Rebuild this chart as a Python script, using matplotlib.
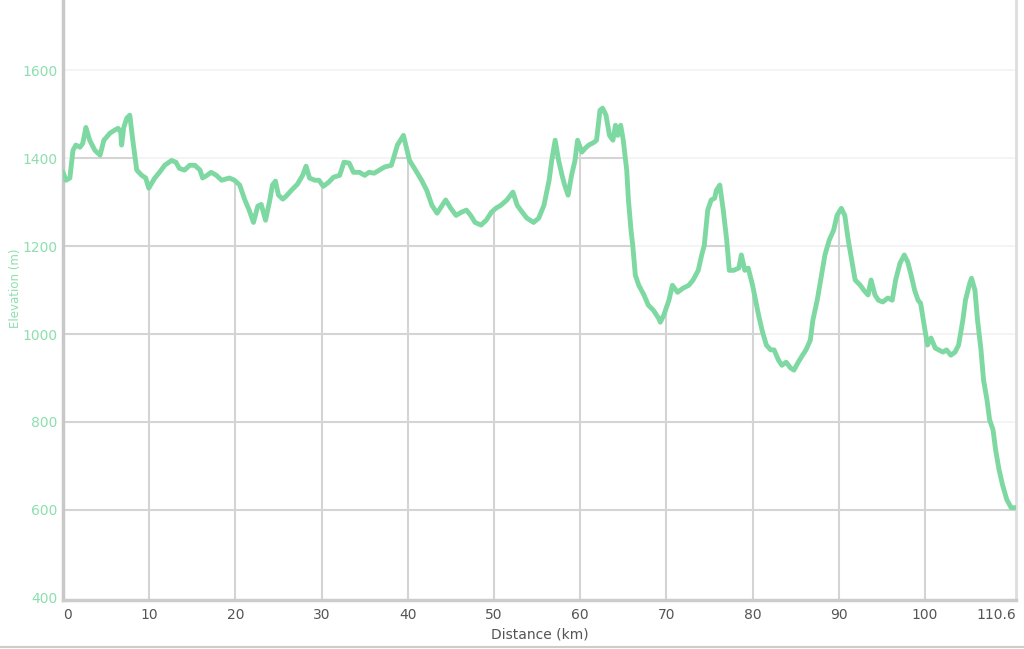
import matplotlib.pyplot as plt
import numpy as np
from matplotlib.patches import Polygon
from matplotlib.lines import Line2D

# elevation profile
distance_km = [0.0, 0.35, 0.8, 1.16, 1.5, 1.97, 2.3, 2.66, 3.1, 3.7, 4.3, 4.75, 5.45, 6.0, 6.4, 6.7,
               6.8, 7.05, 7.4, 7.75, 8.1, 8.56, 9.14, 9.6, 9.95, 10.65, 11.2, 11.8, 12.6, 13.1, 13.5,
               14.1, 14.7, 15.3, 15.9, 16.2, 16.7, 17.2, 17.8, 18.4, 19.3, 19.9, 20.5, 21.1, 21.6,
               22.1, 22.6, 23.0, 23.5, 24.0, 24.3, 24.65, 25.0, 25.5, 25.9, 26.5, 27.2, 27.8, 28.2,
               28.6, 29.2, 29.7, 30.2, 30.8, 31.4, 32.1, 32.6, 33.2, 33.7, 34.4, 35.0, 35.5, 36.1,
               36.7, 37.3, 38.1, 38.8, 39.5, 40.2, 40.9, 41.6, 42.2, 42.8, 43.4, 44.0, 44.4, 45.0,
               45.6, 46.2, 46.8, 47.3, 47.8, 48.5, 49.1, 49.7, 50.2, 50.8, 51.5, 52.2, 52.7, 53.1,
               53.8, 54.6, 55.2, 55.8, 56.4, 56.7, 57.1, 57.5, 57.9, 58.2, 58.6, 59.0, 59.4, 59.7,
               60.2, 60.6, 61.0, 61.6, 61.9, 62.3, 62.6, 63.0, 63.4, 63.8, 64.1, 64.35, 64.7, 65.0,
               65.4, 65.6, 65.9, 66.1, 66.4, 66.8, 67.4, 67.9, 68.5, 69.1, 69.3, 69.7, 70.3, 70.7,
               71.3, 71.9, 72.6, 73.1, 73.7, 74.1, 74.4, 74.8, 75.2, 75.6, 75.8, 76.2, 76.6, 77.0,
               77.3, 77.8, 78.4, 78.7, 79.1, 79.5, 80.0, 80.3, 80.7, 81.1, 81.6, 82.1, 82.5, 83.0,
               83.4, 83.9, 84.4, 84.8, 85.3, 85.8, 86.2, 86.7, 87.0, 87.5, 88.0, 88.4, 88.9, 89.4,
               89.8, 90.3, 90.7, 91.1, 91.4, 91.9, 92.5, 92.9, 93.4, 93.75, 94.2, 94.6, 95.1, 95.7,
               96.2, 96.6, 97.1, 97.6, 98.0, 98.4, 98.8, 99.2, 99.5, 100.0, 100.3, 100.7, 101.2,
               101.6, 102.1, 102.5, 103.0, 103.5, 103.9, 104.4, 104.7, 105.2, 105.4, 105.8, 106.1,
               106.5, 106.8, 107.2, 107.5, 107.9, 108.2, 108.6, 109.0, 109.5, 110.0, 110.6]
elevation_m = [1368, 1350, 1355, 1418, 1430, 1425, 1434, 1470, 1441, 1418, 1407, 1441, 1457, 1464,
               1468, 1459, 1430, 1470, 1491, 1498, 1441, 1373, 1361, 1355, 1332, 1355, 1368, 1384,
               1395, 1391, 1377, 1373, 1384, 1384, 1373, 1355, 1361, 1368, 1361, 1350, 1355, 1350,
               1339, 1305, 1282, 1254, 1291, 1295, 1259, 1305, 1339, 1348, 1316, 1307, 1314, 1327,
               1341, 1361, 1382, 1355, 1350, 1350, 1336, 1345, 1357, 1361, 1391, 1389, 1368, 1368,
               1361, 1368, 1366, 1373, 1380, 1384, 1430, 1452, 1395, 1373, 1350, 1327, 1293, 1275,
               1293, 1305, 1286, 1270, 1277, 1282, 1270, 1254, 1248, 1259, 1277, 1286, 1293, 1305,
               1323, 1293, 1282, 1264, 1254, 1264, 1293, 1350, 1395, 1441, 1395, 1361, 1339, 1316,
               1361, 1395, 1441, 1414, 1423, 1430, 1436, 1441, 1509, 1514, 1498, 1452, 1441, 1475,
               1452, 1475, 1441, 1373, 1305, 1236, 1202, 1134, 1111, 1089, 1066, 1054, 1036, 1027,
               1043, 1077, 1111, 1095, 1104, 1111, 1123, 1145, 1180, 1202, 1282, 1305, 1309, 1327,
               1339, 1282, 1214, 1145, 1145, 1150, 1180, 1145, 1150, 1111, 1082, 1043, 1009, 975,
               964, 964, 941, 929, 936, 923, 918, 936, 952, 964, 986, 1032, 1077, 1134, 1180, 1214,
               1236, 1270, 1286, 1270, 1214, 1180, 1123, 1111, 1100, 1089, 1123, 1089, 1077, 1073,
               1082, 1077, 1123, 1161, 1180, 1164, 1134, 1100, 1077, 1070, 1009, 975, 991, 968, 964,
               959, 964, 952, 959, 975, 1032, 1077, 1116, 1127, 1100, 1032, 964, 895, 850, 805, 782,
               736, 691, 657, 623, 605, 605]

x_ticks = [0, 10, 20, 30, 40, 50, 60, 70, 80, 90, 100, 110.6]
x_labels = ["0", "10", "20", "30", "40", "50", "60", "70", "80", "90", "100", "110.6"]
y_ticks = [400, 600, 800, 1000, 1200, 1400, 1600]

green = "#7ed8a1"
label_green = "#8ddfad"
grey_text = "#555555"

fig = plt.figure(figsize=(10.24, 6.49), dpi=100)
ax = fig.add_axes([0.0615, 0.0755, 0.931, 0.9245])

x = np.array(distance_km)
y = np.array(elevation_m)
ymin, ymax = 395, 1760
ax.set_xlim(0, 110.6)
ax.set_ylim(ymin, ymax)

# faint horizontal grid everywhere
for v in y_ticks[1:]:
    ax.axhline(v, color="#f2f2f2", lw=1.2, zorder=1)

# darker grid only under the curve
area = Polygon(np.column_stack([np.r_[x, x[-1], x[0]], np.r_[y, ymin, ymin]]),
               facecolor="none", edgecolor="none")
ax.add_patch(area)
vl = ax.vlines(x_ticks[1:-1], ymin, ymax, color="#d4d4d4", lw=1.5, zorder=2)
hl = ax.hlines(y_ticks[1:], 0, 110.6, color="#d4d4d4", lw=1.5, zorder=2)
vl.set_clip_path(area)
hl.set_clip_path(area)

ax.plot(x, y, color=green, lw=3.5, zorder=3, solid_joinstyle="round")

ax.set_xticks(x_ticks)
ax.set_xticklabels(x_labels)
ax.set_yticks(y_ticks)
ax.tick_params(axis="x", length=0, pad=6, labelsize=10, labelcolor=grey_text)
ax.tick_params(axis="y", length=0, pad=4, labelsize=10, labelcolor=label_green)
xt = ax.get_xticklabels()
xt[0].set_ha("left")
xt[-1].set_ha("right")

ax.set_xlabel("Distance (km)", fontsize=10, color=grey_text, labelpad=4)
ax.set_ylabel("Elevation (m)", fontsize=8.5, color=label_green)
ax.yaxis.set_label_coords(-0.043, 0.52)

ax.spines["top"].set_visible(False)
ax.spines["left"].set_color("#c8c8c8")
ax.spines["left"].set_linewidth(2.5)
ax.spines["bottom"].set_color("#cccccc")
ax.spines["bottom"].set_linewidth(2.5)
ax.spines["right"].set_color("#dddddd")
ax.spines["right"].set_linewidth(2)

fig.add_artist(Line2D([0, 1], [0.003, 0.003], color="#cccccc", lw=1.5))

fig.savefig("out.png", dpi=100)
